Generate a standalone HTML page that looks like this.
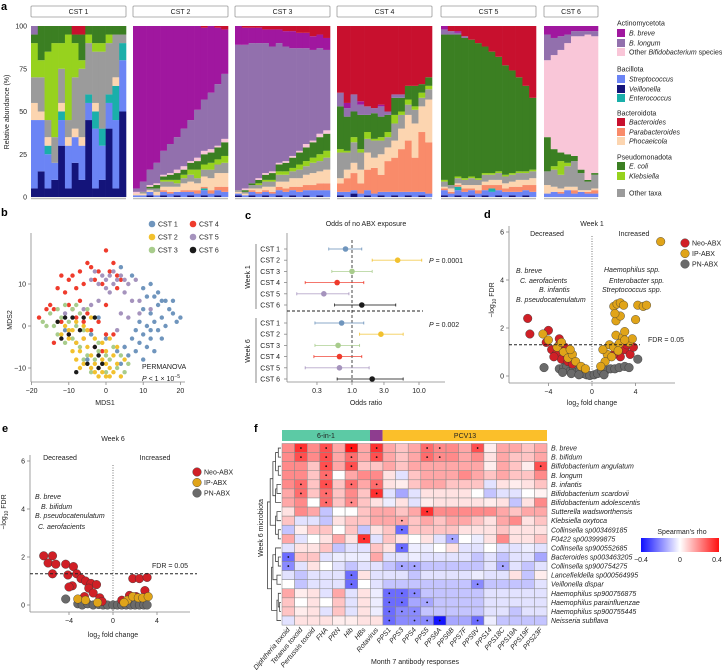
<!DOCTYPE html>
<html><head><meta charset="utf-8">
<style>
html,body{margin:0;padding:0;background:#fff;}
svg{display:block;font-family:"Liberation Sans",sans-serif;}
.t{font-size:7px;fill:#222;}
.it{font-size:7px;fill:#222;font-style:italic;}
.pl{font-size:11px;font-weight:bold;fill:#000;}
</style></head>
<body>
<svg id="fig" width="722" height="670" viewBox="0 0 722 670" xmlns="http://www.w3.org/2000/svg">
<text class="pl" x="1" y="10">a</text>
<text class="pl" x="1" y="216">b</text>
<text class="pl" x="245" y="219">c</text>
<text class="pl" x="484" y="218">d</text>
<text class="pl" x="2" y="432">e</text>
<text class="pl" x="254" y="432">f</text>
<text class="t" transform="translate(9,112) rotate(-90)" text-anchor="middle">Relative abundance (%)</text>
<text class="t" x="105" y="405" text-anchor="middle">MDS1</text>
<text class="t" transform="translate(12,320) rotate(-90)" text-anchor="middle">MDS2</text>
<text class="t" x="142" y="369">PERMANOVA</text>
<text class="t" x="142" y="381"><tspan font-style="italic">P</tspan> &lt; 1 × 10<tspan dy="-3" font-size="5">−5</tspan></text>
<text class="t" x="366" y="226" text-anchor="middle">Odds of no ABX exposure</text>
<text class="t" x="366" y="405" text-anchor="middle">Odds ratio</text>
<text class="t" x="429" y="263"><tspan font-style="italic">P</tspan> = 0.0001</text>
<text class="t" x="429" y="327"><tspan font-style="italic">P</tspan> = 0.002</text>
<text class="t" transform="translate(250,277) rotate(-90)" text-anchor="middle">Week 1</text>
<text class="t" transform="translate(250,351) rotate(-90)" text-anchor="middle">Week 6</text>
<line x1="256" y1="244" x2="256" y2="309" stroke="#555" stroke-width="0.7"/>
<line x1="256" y1="318" x2="256" y2="383" stroke="#555" stroke-width="0.7"/>
<text class="t" x="592" y="226" text-anchor="middle">Week 1</text>
<text class="t" x="547" y="236" text-anchor="middle">Decreased</text>
<text class="t" x="634" y="236" text-anchor="middle">Increased</text>
<text class="it" x="516" y="273">B. breve</text>
<text class="it" x="520" y="283">C. aerofacients</text>
<text class="it" x="539" y="292">B. infantis</text>
<text class="it" x="516" y="302">B. pseudocatenulatum</text>
<text class="it" x="604" y="272">Haemophilus spp.</text>
<text class="it" x="609" y="283">Enterobacter spp.</text>
<text class="it" x="602" y="292">Streptococcus spp.</text>
<text class="t" x="648" y="342">FDR = 0.05</text>
<text class="t" x="592" y="405" text-anchor="middle">log<tspan font-size="5" dy="2">2</tspan><tspan dy="-2"> fold change</tspan></text>
<text class="t" transform="translate(494,300) rotate(-90)" text-anchor="middle">−log<tspan font-size="5" dy="2">10</tspan><tspan dy="-2"> FDR</tspan></text>
<text class="t" x="113" y="441" text-anchor="middle">Week 6</text>
<text class="t" x="60" y="460" text-anchor="middle">Decreased</text>
<text class="t" x="155" y="460" text-anchor="middle">Increased</text>
<text class="it" x="35" y="499">B. breve</text>
<text class="it" x="41" y="509">B. bifidum</text>
<text class="it" x="35" y="518">B. pseudocatenulatum</text>
<text class="it" x="38" y="529">C. aerofacients</text>
<text class="t" x="152" y="568">FDR = 0.05</text>
<text class="t" x="113" y="637" text-anchor="middle">log<tspan font-size="5" dy="2">2</tspan><tspan dy="-2"> fold change</tspan></text>
<text class="t" transform="translate(6,512) rotate(-90)" text-anchor="middle">−log<tspan font-size="5" dy="2">10</tspan><tspan dy="-2"> FDR</tspan></text>
<text class="t" transform="translate(263,528) rotate(-90)" text-anchor="middle">Week 6 microbiota</text>
<text class="t" x="415" y="664" text-anchor="middle">Month 7 antibody responses</text>
<rect x="282" y="430" width="88" height="11" fill="#5ccaa5"/>
<rect x="370" y="430" width="12.6" height="11" fill="#8e3d8f"/>
<rect x="382.6" y="430" width="164.4" height="11" fill="#fbbf2a"/>
<text class="t" x="326" y="438" text-anchor="middle">6-in-1</text>
<text class="t" x="465" y="438" text-anchor="middle">PCV13</text>
<defs><linearGradient id="rho" x1="0" x2="1" y1="0" y2="0"><stop offset="0" stop-color="#1010ff"/><stop offset="0.5" stop-color="#ffffff"/><stop offset="1" stop-color="#ff1010"/></linearGradient></defs>
<text class="t" x="682" y="534" text-anchor="middle">Spearman's rho</text>
<rect x="641" y="538" width="78" height="14" fill="url(#rho)"/>
<text class="t" x="641" y="562" text-anchor="middle">−0.4</text>
<text class="t" x="680" y="562" text-anchor="middle">0</text>
<text class="t" x="717" y="562" text-anchor="middle">0.4</text>
</svg>
<script>
const svg=document.getElementById('fig');
const NS='http://www.w3.org/2000/svg';
function mk(tag,attrs){const e=document.createElementNS(NS,tag);for(const k in attrs)e.setAttribute(k,attrs[k]);svg.appendChild(e);return e;}
function txt(x,y,s,cls,anchor){const e=mk('text',{x:x,y:y,'class':cls||'t','text-anchor':anchor||'start'});e.textContent=s;return e;}

/* ---------- Panel a data ---------- */
const taxaNames=['Veillonella','Streptococcus','Enterococcus','Parabacteroides','Phocaeicola','Other taxa','Klebsiella','E. coli','Other Bifidobacterium species','B. longum','B. breve','Bacteroides'];
const taxaColors=['#14147a','#6b84f5','#1aafaa','#f98b6a','#fcd5b0','#9b9b9b','#97d21e','#3b7f22','#f9c6d8','#9270ad','#a0179f','#c8102e'];
const cstLabels=['CST 1','CST 2','CST 3','CST 4','CST 5','CST 6'];
const cst1Bars=[[5,40,0,0,10,15,20,5,0,5,0,0],[15,30,0,0,5,20,10,20,0,0,0,0],[5,20,5,0,5,10,40,15,0,0,0,0],[10,10,0,0,0,15,55,10,0,0,0,0],[30,15,5,0,5,20,15,10,0,0,0,0],[5,25,0,0,5,10,50,5,0,0,0,0],[20,15,0,0,5,30,20,5,0,0,0,5],[10,20,0,0,5,40,5,15,0,0,0,5],[45,10,5,0,0,30,5,5,0,0,0,0],[5,35,10,0,5,30,5,10,0,0,0,0],[10,20,10,0,0,45,5,10,0,0,0,0],[40,15,5,0,0,30,5,5,0,0,0,0],[5,40,20,0,5,25,0,5,0,0,0,0],[50,30,10,0,0,5,0,5,0,0,0,0]];
const cst2Bars=[[0,1,0,0,1,0,0,0,1,2,95,0],[0,1,0,0,1,1,0,0,0,6,91,0],[1,2,0,0,1,1,0,1,1,9,84,0],[0,1,0,0,2,2,0,2,1,12,80,0],[1,2,0,1,2,3,1,2,1,14,73,0],[0,2,0,1,3,3,1,3,1,17,69,0],[1,2,0,0,3,2,2,4,2,19,65,0],[0,3,0,1,4,3,2,3,2,22,60,0],[1,2,0,1,5,4,3,4,1,24,55,0],[0,2,0,2,4,3,5,5,2,28,49,0],[1,3,1,1,6,4,3,6,2,30,42,1],[0,2,0,2,7,5,4,6,2,33,39,0],[1,3,0,2,8,5,3,7,1,36,33,1],[0,3,0,3,8,6,4,8,2,38,26,2]];
const cst3Bars=[[1,1,0,0,1,1,0,0,0,85,11,0],[0,1,0,0,1,1,0,1,1,84,10,1],[1,2,0,1,1,2,0,1,0,82,9,1],[0,2,0,1,2,2,1,2,1,79,9,1],[1,2,0,1,2,3,1,3,1,76,8,2],[0,2,0,1,3,3,1,4,1,73,10,2],[1,3,0,2,3,4,2,4,1,70,8,2],[0,3,0,2,4,4,2,5,1,67,9,3],[1,3,0,2,5,4,2,6,1,63,10,3],[0,3,0,3,5,5,3,7,1,60,9,4],[1,3,0,3,6,5,3,8,2,56,9,4],[0,4,0,3,7,6,3,9,1,53,8,6],[1,3,0,4,7,6,4,10,2,50,8,5],[0,4,0,4,8,7,4,10,2,47,7,7]];
const cst4Bars=[[1,2,0,5,3,15,2,25,0,8,0,39],[0,3,0,8,5,10,1,20,0,5,3,45],[2,2,0,10,6,12,3,15,0,10,0,40],[0,2,0,6,8,10,2,20,0,6,2,44],[1,3,0,12,10,8,4,10,0,5,0,47],[0,2,0,15,6,10,1,15,0,3,0,48],[1,2,0,10,12,8,2,12,0,6,1,46],[0,3,0,18,8,6,3,10,0,2,0,50],[1,2,0,20,10,10,5,10,0,2,0,40],[0,3,0,25,12,8,2,8,0,2,0,40],[1,2,0,30,15,6,3,8,0,0,0,35],[0,3,0,20,20,8,2,12,0,0,0,35],[1,2,0,35,15,5,3,5,0,0,0,34],[0,2,0,30,25,6,2,5,0,0,0,30]];
const cst5Bars=[[1,3,0,1,1,3,1,85,0,3,2,0],[0,2,0,1,2,2,0,88,0,2,0,3],[1,3,2,1,1,3,1,83,0,1,1,3],[0,3,0,2,2,3,1,82,0,1,0,6],[1,3,0,1,2,4,1,80,0,0,0,8],[0,2,0,2,3,3,1,79,0,0,0,10],[1,3,0,3,2,4,1,74,0,0,0,12],[0,3,2,2,3,3,1,71,0,0,0,15],[1,3,0,3,3,4,1,67,0,0,0,18],[0,3,0,2,3,4,1,64,0,0,0,23],[1,2,0,3,3,4,1,60,0,0,0,26],[0,3,0,3,4,4,1,55,0,0,0,30],[1,3,0,3,3,4,1,50,0,0,0,35],[0,3,0,4,4,4,1,42,0,0,0,42]];
const cst6Bars=[[0,2,0,0,5,8,0,20,45,15,5,0],[0,3,0,0,3,10,2,10,55,10,7,0],[0,2,0,1,2,8,8,5,60,8,6,0],[0,4,0,0,2,12,2,5,65,5,5,0],[0,2,0,2,2,15,0,3,70,3,3,0],[0,3,0,0,1,10,0,2,78,3,3,0],[0,2,0,1,1,5,0,1,85,2,3,0],[0,2,0,2,1,8,0,1,80,3,3,0]];
const abundanceTicks=[0,25,50,75,100];

/* ---------- Panel b data ---------- */
const mdsCst1=[[10,4],[12,3],[14,5],[15,2],[17,4],[18,3],[20,2],[11,0],[13,1],[16,0],[19,1],[8,-1],[10,-2],[12,-3],[14,-1],[9,-4],[11,-5],[13,-6],[8,-6],[6,-7],[10,-8],[7,-3],[5,-5],[15,-3],[12,-1],[9,1],[14,8],[13,7],[16,6],[12,10],[4,14],[7,12],[10,9],[18,6],[15,6],[11,7],[-2,2],[3,-6],[-5,-8],[4,-9],[-11,-1],[-4,-2],[0,-3]];
const mdsCst2=[[-12,-2],[-10,-3],[-9,-1],[-8,-4],[-7,-6],[-6,-3],[-5,-5],[-4,-7],[-3,-9],[-2,-10],[-1,-11],[0,-12],[1,-10],[2,-11],[-2,-12],[-4,-10],[-6,-9],[-8,-8],[0,-6],[2,-7],[3,-9],[5,-8],[-10,-1],[-11,0],[-5,-1],[-3,-3],[-1,-4],[1,-3],[3,-5],[4,-12],[-9,-6],[-7,-10],[-1,-8],[-3,-11],[1,-12],[-6,0],[-13,1],[-8,1],[-4,2],[0,-9]];
const mdsCst3=[[-17,1],[-15,3],[-13,4],[-11,5],[-9,4],[-7,3],[-5,4],[-3,2],[-12,2],[-10,1],[-8,0],[-6,-1],[-4,-2],[-2,-4],[-14,0],[-9,-3],[-7,-5],[-5,-7],[-3,-8],[-1,-9],[1,-8],[3,-10],[5,-11],[-2,-6],[0,-7],[2,-5],[4,-7],[6,-9],[-6,-8],[-4,-11],[0,-11],[-11,-4],[-13,-2],[-16,0],[-8,5]];
const mdsCst4=[[0,18],[-5,15],[-4,14],[-7,13],[-9,12],[-10,11],[-12,12],[-13,9],[-11,8],[-15,5],[-16,4],[-14,4],[-18,2],[-12,1],[-10,5],[-8,9],[-6,10],[-2,13],[3,12],[4,11],[-3,11],[-1,10],[-7,6],[-9,4],[-5,3],[-2,1],[0,5],[3,9],[1,13],[2,15],[-4,-1],[-6,-3],[-10,-2],[-3,-5],[0,-2],[-8,2],[2,-2],[-1,-6],[-14,-4],[-6,1]];
const mdsCst5=[[-3,13],[-1,12],[0,11],[1,12],[2,13],[3,11],[4,12],[5,11],[-2,10],[0,9],[2,10],[6,10],[8,11],[-4,11],[1,8],[5,8],[7,6],[9,6],[-6,4],[-4,5],[-2,6],[4,3],[6,2],[9,3],[12,4],[-8,-4],[-2,-7],[3,-1],[5,-5],[-11,3]];
const mdsCst6=[[-13,1],[-11,2],[-9,2],[-6,2],[-3,2],[-12,-3],[-10,-2],[-7,-1],[-3,-5],[-2,-7],[-5,-9],[-2,-10],[-1,-9],[-8,-11]];
const mdsXTicks=[-20,-10,0,10,20];
const mdsYTicks=[-10,0,10];
const cstColors=['#6f95bd','#f2c12e','#a8cc8c','#ef3b2c','#a593bd','#1a1a1a'];

/* ---------- Panel c data ---------- */
const orRowLabels=['CST 1','CST 2','CST 3','CST 4','CST 5','CST 6'];
const orWeek1=[0.8,4.8,1.0,0.6,0.38,1.4];
const orWeek1Lo=[0.45,2.0,0.5,0.2,0.15,0.55];
const orWeek1Hi=[1.4,11,2.0,1.5,0.9,4.5];
const orWeek6=[0.7,2.7,0.62,0.65,0.65,2.0];
const orWeek6Lo=[0.28,1.3,0.28,0.27,0.2,0.6];
const orWeek6Hi=[1.5,5.8,1.3,1.4,1.8,5.8];
const orTicks=[0.3,1.0,3.0,10.0];

/* ---------- Panel d / e data ---------- */
const w1Neo=[[-5.9,2.4],[-5.7,1.75],[-4.0,1.9],[-3.0,1.55],[-4.2,1.4],[-3.7,1.1],[-3.3,0.9],[-2.8,0.7],[-3.5,0.8],[-2.5,1.2],[-2.2,0.6],[-1.8,0.5],[-3.0,1.3],[3.0,1.1],[3.5,0.9],[2.6,0.8],[3.2,1.3],[2.0,0.9],[3.8,1.2]];
const w1IP=[[6.3,5.6],[-4.5,1.75],[-4.0,1.5],[-3.2,1.2],[-2.6,1.0],[-2.2,0.75],[-1.8,0.9],[-1.5,0.6],[-1.0,0.4],[-0.6,0.3],[-2.8,1.4],[-2.0,1.1],[2.0,2.9],[2.3,3.0],[2.6,3.05],[2.9,2.95],[2.2,2.3],[2.6,2.5],[2.1,2.6],[4.2,2.95],[4.7,2.9],[5.0,2.95],[4.0,2.35],[2.2,1.7],[2.8,1.6],[3.0,1.85],[3.4,1.4],[3.7,1.55],[1.6,1.3],[2.0,1.2],[2.5,1.35],[1.4,0.9],[1.8,0.8],[1.2,0.6],[0.8,0.4],[2.4,1.05],[3.0,1.5],[1.0,1.1]];
const w1PN=[[-4.4,0.35],[-3.0,0.3],[-2.6,0.35],[-2.3,0.4],[-2.0,0.2],[-1.7,0.3],[-1.4,0.15],[-1.1,0.25],[-0.8,0.1],[-0.5,0.05],[-0.2,0.02],[0.2,0.05],[0.5,0.1],[0.9,0.2],[1.3,0.25],[1.7,0.3],[2.1,0.3],[2.5,0.35],[3.0,0.4],[3.4,0.35],[4.2,0.7],[-2.7,0.15],[-1.9,0.1],[-1.2,0.05],[1.1,0.05]];
const w6Neo=[[-6.3,2.05],[-5.5,2.05],[-5.9,1.75],[-5.2,1.7],[-5.5,1.3],[-4.3,1.7],[-4.1,1.25],[-3.6,1.6],[-3.3,1.3],[-2.9,1.1],[-2.5,1.0],[-2.0,0.9],[-1.5,0.85],[-2.2,0.7],[-1.8,0.5],[-1.2,0.3],[-3.7,0.8],[-4.0,0.75],[-2.6,0.35],[-1.0,0.15],[1.8,1.1],[2.4,1.1],[3.1,1.15],[2.9,0.6],[1.5,0.4],[2.1,0.35],[0.8,0.2]];
const w6IP=[[-3.2,0.25],[-2.5,0.2],[-1.4,0.1],[1.3,0.2],[1.8,0.35],[2.3,0.3],[2.7,0.3],[3.2,0.35],[1.0,0.1]];
const w6PN=[[-4.3,0.25],[-3.2,0.05],[-2.8,0.0],[-2.3,0.05],[-1.8,0.0],[-1.3,0.02],[-0.9,0.0],[-0.5,0.0],[0,0],[0.4,0],[0.8,0.0],[1.2,0.0],[1.6,0.0],[2.0,0.0],[2.4,0.0],[2.8,0.0],[3.1,0.0]];
const volcanoXTicks=[-4,0,4];
const volcanoYTicks=[0,2,4,6];
const groupNames=['Neo-ABX','IP-ABX','PN-ABX'];
const groupColors=['#d01f26','#e0a419','#6a6a6a'];
const fdrThreshold=-Math.log10(0.05);

/* ---------- Panel f data ---------- */
const antibodyCols=['Diphtheria toxoid','Tetanus toxoid','Pertussis toxoid','FHA','PRN','Hib','HBs','Rotavirus','PPS1','PPS3','PPS4','PPS5','PPS6A','PPS6B','PPS7F','PPS9V','PPS14','PPS18C','PPS19A','PPS19F','PPS23F'];
const taxaRows=['B. breve','B. bifidum','Bifidobacterium angulatum','B. longum','B. infantis','Bifidobacterium scardovii','Bifidobacterium adolescentis','Sutterella wadsworthensis','Klebsiella oxytoca','Collinsella sp003469185','F0422 sp003999875','Collinsella sp900552685','Bacteroides sp003463205','Collinsella sp900754275','Lancefieldella sp000564995','Veillonella dispar','Haemophilus sp900756875','Haemophilus parainfluenzae','Haemophilus sp900755445','Neisseria subflava'];
const rhoTimes10=[
[2,3.5,2,3,1.5,4,1.5,3.5,1.5,1,1.5,2.5,2,2,1.5,3,0.3,1.5,1.5,1,1.5],
[2,3,2,3,1.5,2.5,1.5,3,1.5,1,1.5,2.5,2,2,1.5,2,0.5,1.5,1,1,1.5],
[2,2,1,3,1.5,3,1,1,1.5,1,1.5,1.5,1.5,1.5,1.5,1.5,0.3,1.5,1,0.3,3],
[2,2,1,2.5,0,1.5,2,2,0.5,-0.5,1,1.5,1.5,1.5,2,1.5,1,1.5,1,1,2],
[2,2.5,1,3,1,2.5,1.5,2.5,0.5,0.3,1,1.5,1.5,1,1,1,-0.5,0.5,0.3,0.5,1],
[1.5,2.5,1,2.5,1,2,1,3.5,-0.5,-1.5,-0.5,0.5,0.5,0.5,0.5,0,-1,-0.5,-0.5,0,0.2],
[1.5,2,0,2.5,1,2,1,0.5,-0.3,0.5,-0.5,0.3,0.5,0.5,0.5,0.5,0.3,0.5,-1,0.5,2],
[0.5,2,1.5,-1,0,0,1,1.5,1.5,1,1.5,3.5,2,2,2,2,2,1.5,1,1.5,1.5],
[1,-0.5,-0.5,-1,0.5,1,1,1.5,1.5,1.5,1,1.5,1,1.5,1.5,1,0.5,1.5,2,0.5,1],
[-1,0.3,1,1,0,1,-1,0.5,1,-2.5,1,1,1,1,0.5,0.5,0.5,1,0.5,0.5,0.5],
[1.5,-0.5,0,0.5,1.5,0.5,3.5,-0.5,1,0.5,0,0.5,-0.5,-1.5,0,-0.3,0.5,2,0.5,0.5,1],
[-0.5,0.5,0.5,1,-1,-0.5,-0.5,1,0.5,-2.5,-0.3,-0.3,0,0.5,-0.5,-0.5,0,-0.5,-0.5,-0.3,-0.5],
[-2.5,1,1,-0.5,-0.3,-0.3,-0.3,1.5,-0.5,-0.5,-0.3,-0.5,-0.5,-0.5,-0.5,-1,-0.5,-1,-0.5,-0.5,-1.5],
[-2,-0.5,0.5,0,-0.5,-1,-0.5,-0.5,-1,-1.5,-1.5,-1,-1,-1,-1,-1,-0.5,-1.5,-0.5,-1,-0.5],
[-0.5,-1,-0.5,-0.5,-0.5,-2.5,0.5,-0.5,-0.5,-0.5,-1,-0.5,-0.5,-0.5,-0.5,-0.3,-0.5,-0.5,0.5,-1,0.3],
[0,-1,-0.5,-0.5,-0.5,-2.5,0,-0.5,-1,-1,-1,-1,-1,-1,-1,-2,-1,-1,-1,-1,-0.5],
[1.5,0.3,0.5,-0.5,1.5,-0.5,0.5,-0.3,-2.5,-2.5,-2,-1,-1,-1,-1,-1,-0.5,-0.5,-0.5,-0.5,-0.5],
[1,0,0.5,0,1,-0.5,0.5,-0.3,-2.5,-2.5,-1.5,-1.5,-1,-1,-1,-1,-0.5,-0.5,-0.5,-0.5,-0.5],
[1,0.3,0.5,-0.5,1,-0.5,0.5,-0.3,-2.5,-2,-2,-1,-1,-1,-1,-1,-0.5,-0.5,-1,-0.5,-0.5],
[-0.5,0.5,0.5,0.5,0.3,0.3,0.5,0.5,-2.5,-2,-2,-2,-4,-1.5,-1.5,-2.5,-0.3,-1,-1,-1,-1]];
const significantCells=[[0,1],[0,3],[0,5],[0,7],[0,11],[0,12],[0,15],[1,1],[1,3],[1,5],[1,7],[1,11],[1,12],[2,3],[2,5],[2,20],[3,3],[4,1],[4,3],[4,5],[4,7],[5,1],[5,3],[5,7],[6,3],[6,5],[7,11],[8,9],[9,9],[10,6],[10,13],[11,9],[12,0],[13,0],[13,9],[13,10],[13,17],[14,5],[15,5],[15,15],[16,8],[16,9],[16,10],[17,8],[17,9],[17,11],[18,8],[18,9],[18,10],[19,8],[19,10],[19,11],[19,12],[19,15]];

/* ================= Panel a ================= */
const aPanels=[[31,126],[133,228],[235,330],[337,432],[441,536],[544,598]];
const aAll=[cst1Bars,cst2Bars,cst3Bars,cst4Bars,cst5Bars,cst6Bars];
function yA(v){return 197-v/100*171;}
abundanceTicks.forEach(v=>{
  const t=txt(27,yA(v)+2.5,String(v),'t','end');
  
  
});
aAll.forEach((bars,p)=>{
  const [x0,x1]=aPanels[p];
  const strip=mk('rect',{x:x0,y:6,width:x1-x0,height:11,fill:'#fff',stroke:'#999','stroke-width':0.8,rx:1});
  
  
  const st=txt((x0+x1)/2,14,cstLabels[p],'t','middle');
  
  
  const w=(x1-x0)/bars.length;
  bars.forEach((comp,i)=>{
    const tot=comp.reduce((a,b)=>a+b,0);
    let cum=0;
    comp.forEach((val,k)=>{
      if(val<=0)return;
      const pct=val/tot*100;
      const r=mk('rect',{x:x0+i*w,y:yA(cum+pct),width:w+0.3,height:pct/100*171,fill:taxaColors[k]});
      
      
      cum+=pct;
    });
  });
  const bl=mk('line',{x1:x0,x2:x1,y1:198.5,y2:198.5,stroke:'#bbb','stroke-width':1.5});
  
  
});
const legendGroups=[['Actinomycetota',23,[[10,33],[9,43],[8,52]]],['Bacillota',69,[[1,79],[0,89],[2,98]]],['Bacteroidota',113,[[11,122],[3,132],[4,141]]],['Pseudomonadota',157,[[7,166],[6,176]]]];
legendGroups.forEach(g=>{
  const h=txt(617,g[1]+2.5,g[0]);
  
  
  g[2].forEach(([k,y])=>{
    const sw=mk('rect',{x:617,y:y-4,width:8,height:8,fill:taxaColors[k]});
    
    
    const lt=txt(629,y+2.5,'',k===8?'t':'it');
    if(k===8){lt.innerHTML='Other <tspan font-style="italic">Bifidobacterium</tspan> species';}
    else lt.textContent=taxaNames[k];
    
    
  });
});
const osw=mk('rect',{x:617,y:189,width:8,height:8,fill:taxaColors[5]});


const olt=txt(629,195.5,'Other taxa');



/* ================= Panel b ================= */
function xB(v){return 106+v*3.72;}
function yB(v){return 326-v*4.2;}
let ax=mk('line',{x1:31,x2:31,y1:233,y2:382,stroke:'#888','stroke-width':0.8});


ax=mk('line',{x1:31,x2:185,y1:382,y2:382,stroke:'#888','stroke-width':0.8});


mdsXTicks.forEach(v=>{
  const tk=mk('line',{x1:xB(v),x2:xB(v),y1:382,y2:385,stroke:'#888','stroke-width':0.8});
  
  
  const t=txt(xB(v),393,v<0?'−'+(-v):String(v),'t','middle');
  
  
});
mdsYTicks.forEach(v=>{
  const tk=mk('line',{x1:28,x2:31,y1:yB(v),y2:yB(v),stroke:'#888','stroke-width':0.8});
  
  
  const t=txt(26,yB(v)+2.5,v<0?'−'+(-v):String(v),'t','end');
  
  
});
[mdsCst4,mdsCst5,mdsCst3,mdsCst1,mdsCst2,mdsCst6].forEach((pts,j)=>{
  const ci=[3,4,2,0,1,5][j];
  pts.forEach(([x,y])=>{
    const c=mk('circle',{cx:xB(x),cy:yB(y),r:2.2,fill:cstColors[ci]});
    
    
  });
});
cstLabels.forEach((lab,i)=>{
  const lx=i<3?152:193, ly=224+(i%3)*13;
  const c=mk('circle',{cx:lx,cy:ly,r:3.3,fill:cstColors[i]});
  
  
  const t=txt(lx+6,ly+2.5,lab);
  
  
});

/* ================= Panel c ================= */
function xC(v){return 352+67*Math.log10(v);}
ax=mk('line',{x1:287,x2:287,y1:233,y2:382,stroke:'#888','stroke-width':0.8});


ax=mk('line',{x1:287,x2:445,y1:382,y2:382,stroke:'#888','stroke-width':0.8});


orTicks.forEach(v=>{
  const tk=mk('line',{x1:xC(v),x2:xC(v),y1:382,y2:385,stroke:'#888','stroke-width':0.8});
  
  
  const t=txt(xC(v),393,v.toFixed(1),'t','middle');
  
  
});
let ref=mk('line',{x1:xC(1),x2:xC(1),y1:240,y2:382,stroke:'#666','stroke-width':1.2,'stroke-dasharray':'3,2'});


ref=mk('line',{x1:287,x2:423,y1:311,y2:311,stroke:'#222','stroke-width':0.9,'stroke-dasharray':'3,2'});


[[orWeek1,orWeek1Lo,orWeek1Hi,249],[orWeek6,orWeek6Lo,orWeek6Hi,323]].forEach(([est,lo,hi,y0])=>{
  est.forEach((v,i)=>{
    const y=y0+i*11.2;
    const lab=txt(280,y+2.5,orRowLabels[i],'t','end');
    
    
    const tk=mk('line',{x1:284,x2:287,y1:y,y2:y,stroke:'#888','stroke-width':0.8});
    
    
    const col=cstColors[i];
    const ln=mk('line',{x1:xC(lo[i]),x2:xC(hi[i]),y1:y,y2:y,stroke:col,'stroke-width':0.9,opacity:0.8});
    
    
    [lo[i],hi[i]].forEach(b=>{
      const cap=mk('line',{x1:xC(b),x2:xC(b),y1:y-1.5,y2:y+1.5,stroke:col,'stroke-width':0.8});
      
      
    });
    const pt=mk('circle',{cx:xC(v),cy:y,r:2.8,fill:col});
    
    
  });
});

/* ================= Volcano helper ================= */
function volcano(opt,neo,ip,pn){
  const xV=v=>opt.x0+v*opt.kx, yV=v=>opt.y0-v*opt.ky;
  let a=mk('line',{x1:opt.left,x2:opt.left,y1:opt.top,y2:opt.bottom,stroke:'#888','stroke-width':0.8});
  
  
  a=mk('line',{x1:opt.left,x2:opt.right,y1:opt.bottom,y2:opt.bottom,stroke:'#888','stroke-width':0.8});
  
  
  volcanoXTicks.forEach(v=>{
    const tk=mk('line',{x1:xV(v),x2:xV(v),y1:opt.bottom,y2:opt.bottom+3,stroke:'#888','stroke-width':0.8});
    
    
    const t=txt(xV(v),opt.bottom+11,v<0?'−'+(-v):String(v),'t','middle');
    
    
  });
  volcanoYTicks.forEach(v=>{
    const tk=mk('line',{x1:opt.left-3,x2:opt.left,y1:yV(v),y2:yV(v),stroke:'#888','stroke-width':0.8});
    
    
    const t=txt(opt.left-5,yV(v)+2.5,String(v),'t','end');
    
    
  });
  const vz=mk('line',{x1:xV(0),x2:xV(0),y1:opt.top+10,y2:opt.bottom,stroke:'#555','stroke-width':0.8,'stroke-dasharray':'1,1.5'});
  
  
  [[pn,2],[neo,0],[ip,1]].forEach(([pts,g])=>{
    pts.forEach(([x,y])=>{
      const c=mk('circle',{cx:xV(x),cy:yV(y),r:4.3,fill:groupColors[g],stroke:'#333','stroke-width':0.4});
      
      
    });
  });
  const fl=mk('line',{x1:opt.left,x2:opt.fdrEnd,y1:yV(fdrThreshold),y2:yV(fdrThreshold),stroke:'#222','stroke-width':1,'stroke-dasharray':'3,2'});
  
  
  groupNames.forEach((n,i)=>{
    const c=mk('circle',{cx:opt.lx,cy:opt.ly+i*10.5,r:4.3,fill:groupColors[i],stroke:'#333','stroke-width':0.4});
    
    
    const t=txt(opt.lx+7,opt.ly+i*10.5+2.5,n);
    
    
  });
}
volcano({p:'d',x0:592,kx:10.9,y0:376,ky:24,left:509,right:675,top:226,bottom:383,fdrEnd:640,lx:685,ly:243},w1Neo,w1IP,w1PN);
volcano({p:'e',x0:113,kx:11,y0:605,ky:24,left:30,right:190,top:455,bottom:612,fdrEnd:197,lx:197,ly:472},w6Neo,w6IP,w6PN);

/* ================= Panel f ================= */
const hx0=282,hy0=443.5,cw=12.62,rh=9.08;
function rhoColor(r){
  const t=Math.max(-1,Math.min(1,r/0.4));
  if(t>=0){return 'rgb(255,'+Math.round(255-235*t)+','+Math.round(255-235*t)+')';}
  const s=-t;return 'rgb('+Math.round(255-235*s)+','+Math.round(255-235*s)+',255)';
}
rhoTimes10.forEach((row,i)=>{
  row.forEach((v,j)=>{
    const c=mk('rect',{x:hx0+j*cw,y:hy0+i*rh,width:cw,height:rh,fill:rhoColor(v/10),stroke:'#8a8a8a','stroke-width':0.5});
    
    
  });
  const l=txt(551,hy0+i*rh+rh/2+2.5,taxaRows[i],'it');
  
  
});
significantCells.forEach(([i,j])=>{
  const s=mk('circle',{cx:hx0+j*cw+cw/2,cy:hy0+i*rh+rh/2,r:0.9,fill:'#111'});
  
  
});
antibodyCols.forEach((n,j)=>{
  const cx=hx0+j*cw+cw/2+2, cy=630;
  const t=txt(0,0,n,'it','end');
  t.setAttribute('transform','translate('+cx+','+cy+') rotate(-50)');
  
  
});
/* dendrogram: merges [a,b,height] referencing leaves (0..19) or clusters (20+) */
const dendroMerges=[[0,1,1],[2,3,1],[20,21,2],[4,5,1.5],[23,6,2],[22,24,3],[7,8,1.5],[9,10,1],[26,27,2],[25,28,4],[12,13,1],[11,30,2],[14,15,1.5],[31,32,3],[17,18,0.5],[16,34,1],[35,19,1.5],[33,36,3.5],[29,37,5]];
(function(){
  const pos={};
  for(let i=0;i<20;i++)pos[i]={y:hy0+i*rh+rh/2,h:0};
  const xD=h=>281-h*2.7;
  dendroMerges.forEach((m,k)=>{
    const a=pos[m[0]],b=pos[m[1]],h=m[2];
    const p=mk('path',{d:'M'+xD(a.h)+','+a.y+'H'+xD(h)+'V'+b.y+'H'+xD(b.h),fill:'none',stroke:'#444','stroke-width':0.8});
    
    
    pos[20+k]={y:(a.y+b.y)/2,h:h};
  });
})();
</script>
</body></html>
